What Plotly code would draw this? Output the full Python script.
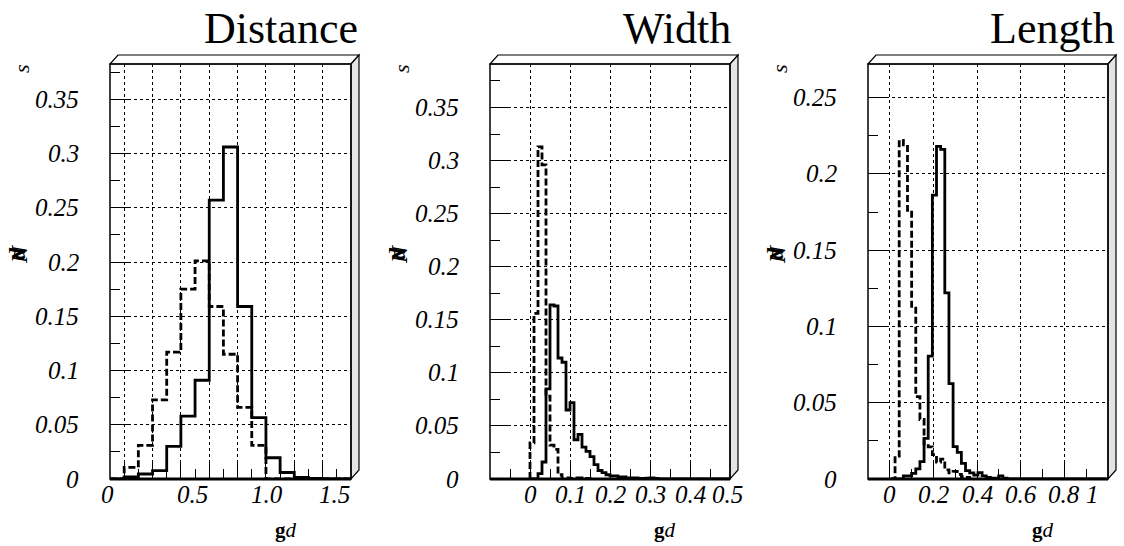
import numpy as np
import plotly.graph_objects as go

# ---- histogram contents -------------------------------------------------
# Distance: 0.1-wide bins starting at 0.0
dist_start, dist_width = 0.0, 0.1
dist_solid = [0, 0.002, 0.0046, 0.0077, 0.030, 0.058, 0.091, 0.257, 0.306,
              0.159, 0.0565, 0.0196, 0.006, 0.0015, 0.0005, 0, 0]
dist_dashed = [0, 0.0107, 0.031, 0.073, 0.117, 0.175, 0.201, 0.159, 0.115,
               0.066, 0.031, 0, 0, 0, 0, 0, 0]

# Width: 0.01-wide bins starting at 0.0
wid_start, wid_width = 0.0, 0.01
wid_solid = [0, 0, 0.005, 0.016, 0.085, 0.164, 0.163, 0.114, 0.110, 0.065,
             0.072, 0.037, 0.042, 0.030, 0.026, 0.021, 0.0135, 0.008, 0.006,
             0.004, 0.003, 0.003, 0.002, 0.002, 0.001, 0.001, 0.001, 0.0005,
             0.0005, 0.0008, 0.001, 0.0005, 0, 0, 0, 0, 0, 0, 0, 0, 0, 0,
             0, 0, 0, 0, 0, 0, 0, 0]
wid_dashed = [0.034, 0.156, 0.313, 0.296, 0.078, 0.032, 0.028, 0.004, 0.001,
              0.001, 0.0005, 0.001, 0.001, 0.0005, 0.0005, 0]

# Length: 0.019-wide bins starting at 0.005
len_start, len_width = 0.005, 0.019
len_solid = [0, 0, 0, 0.002, 0.002, 0.0037, 0.0066, 0.0114, 0.0266, 0.0806,
             0.186, 0.218, 0.216, 0.122, 0.0625, 0.0212, 0.0175, 0.0103,
             0.0055, 0.004, 0.0026, 0.0042, 0.002, 0.001, 0.0005, 0.0005,
             0.002, 0.0005, 0, 0, 0, 0, 0, 0, 0, 0, 0, 0, 0, 0, 0, 0, 0, 0,
             0, 0, 0, 0, 0, 0, 0, 0]
len_dashed = [0, 0.015, 0.222, 0.219, 0.176, 0.112, 0.054, 0.039, 0.023,
              0.021, 0.016, 0.011, 0.013, 0.006, 0.004, 0.005, 0.003, 0.0015,
              0.001, 0]

# ---- axis texts ---------------------------------------------------------
titles = ["Distance", "Width", "Length"]

dist_yticks = [0, 0.05, 0.1, 0.15, 0.2, 0.25, 0.3, 0.35]
dist_ytext = ["0", "0.05", "0.1", "0.15", "0.2", "0.25", "0.3", "0.35"]
wid_yticks = dist_yticks
wid_ytext = dist_ytext
len_yticks = [0, 0.05, 0.1, 0.15, 0.2, 0.25]
len_ytext = ["0", "0.05", "0.1", "0.15", "0.2", "0.25"]

# x labels are placed as fractions of each frame's width
dist_xlabels = ["0", "0.5", "1.0", "1.5"]
dist_xlabel_pos = [-0.012, 0.344, 0.65, 0.93]
wid_xlabels = ["0", "0.1", "0.2", "0.3", "0.4", "0.5"]
wid_xlabel_pos = [1 / 6, 2 / 6, 3 / 6, 4 / 6, 5 / 6, 0.99]
len_xlabels = ["0", "0.2", "0.4", "0.6", "0.8", "1"]
len_xlabel_pos = [0.1 / 1.1, 0.3 / 1.1, 0.5 / 1.1, 0.7 / 1.1, 0.9 / 1.1, 0.935]

W, H = 1124, 546
FONT = "Times New Roman, Liberation Serif, serif"


def step_xy(start, width, vals):
    edges = start + width * np.arange(len(vals) + 1)
    x = [edges[0]] + list(edges[:-1]) + [edges[-1], edges[-1]]
    y = [0] + list(vals) + [vals[-1], 0]
    return x, y


panels = [
    dict(solid=(dist_start, dist_width, dist_solid),
         dashed=(dist_start, dist_width, dist_dashed),
         xr=[0, 1.7], yr=[0, 0.3825],
         xgrid=[0.1, 0.3, 0.5, 0.7, 0.9, 1.1, 1.3, 1.5], xminor=(0, 0.1),
         yticks=dist_yticks, ytext=dist_ytext,
         xl=dist_xlabels, xlp=dist_xlabel_pos,
         px=(110, 351), tshift=9),
    dict(solid=(wid_start, wid_width, wid_solid),
         dashed=(wid_start, wid_width, wid_dashed),
         xr=[-0.1, 0.5], yr=[0, 0.391],
         xgrid=[0, 0.1, 0.2, 0.3, 0.4], xminor=(-0.1, 0.05),
         yticks=wid_yticks, ytext=wid_ytext,
         xl=wid_xlabels, xlp=wid_xlabel_pos,
         px=(490, 730), tshift=3),
    dict(solid=(len_start, len_width, len_solid),
         dashed=(len_start, len_width, len_dashed),
         xr=[-0.1, 1.0], yr=[0, 0.272],
         xgrid=[0, 0.2, 0.4, 0.6, 0.8], xminor=(-0.1, 0.1),
         yticks=len_yticks, ytext=len_ytext,
         xl=len_xlabels, xlp=len_xlabel_pos,
         px=(868, 1108), tshift=9),
]

TOP, BOTTOM = 64, 479
ydom = [1 - BOTTOM / H, 1 - TOP / H]
DX, DY = 8 / W, 9 / H

fig = go.Figure()
layout = dict(width=W, height=H, margin=dict(l=0, r=0, t=0, b=0),
              paper_bgcolor="white", plot_bgcolor="white", showlegend=False,
              font=dict(family=FONT, color="black"))
shapes, annotations = [], []

for i, p in enumerate(panels, start=1):
    xa = "x" if i == 1 else f"x{i}"
    ya = "y" if i == 1 else f"y{i}"
    xdom = [p["px"][0] / W, p["px"][1] / W]

    for key, dash in (("solid", "solid"), ("dashed", "7px,3px")):
        x, y = step_xy(*p[key])
        fig.add_trace(go.Scatter(
            x=x, y=y, mode="lines", line_shape="hv",
            line=dict(color="black", width=2.8, dash=dash),
            xaxis=xa, yaxis=ya, hoverinfo="skip"))

    grid = dict(showgrid=True, gridcolor="black", gridwidth=1,
                griddash="3px,3px", zeroline=False, showline=False,
                showticklabels=False, ticks="inside", tickcolor="black",
                tickwidth=1)
    layout["xaxis" if i == 1 else f"xaxis{i}"] = dict(
        domain=xdom, range=p["xr"], anchor=ya, tickmode="array",
        tickvals=p["xgrid"], ticklen=16,
        minor=dict(ticks="inside", ticklen=10, tickcolor="black",
                   tick0=p["xminor"][0], dtick=p["xminor"][1],
                   showgrid=False),
        **grid)
    layout["yaxis" if i == 1 else f"yaxis{i}"] = dict(
        domain=ydom, range=p["yr"], anchor=xa, tickmode="array",
        tickvals=[v for v in p["yticks"] if v > 0], ticklen=20,
        minor=dict(ticks="inside", ticklen=10, tickcolor="black",
                   tick0=0, dtick=0.025, showgrid=False),
        **grid)

    x0, x1 = xdom
    y0, y1 = ydom
    # box depth: top and right faces
    shapes.append(dict(type="path", xref="paper", yref="paper",
                       path=f"M{x0},{y1} L{x0+DX},{y1+DY} L{x1+DX},{y1+DY} L{x1},{y1} Z",
                       fillcolor="white", line=dict(color="black", width=1.2),
                       layer="above"))
    shapes.append(dict(type="path", xref="paper", yref="paper",
                       path=f"M{x1},{y1} L{x1+DX},{y1+DY} L{x1+DX},{y0+DY} L{x1},{y0} Z",
                       fillcolor="#e4e4e4", line=dict(color="black", width=1.2),
                       layer="above"))
    # frame
    shapes.append(dict(type="rect", xref="paper", yref="paper",
                       x0=x0, x1=x1, y0=y0, y1=y1,
                       line=dict(color="black", width=1.5), layer="above"))
    shapes.append(dict(type="line", xref="paper", yref="paper",
                       x0=x0, x1=x1, y0=y0, y1=y0,
                       line=dict(color="black", width=3), layer="above"))

    xd, yd = f"{xa} domain", f"{ya} domain"
    # title
    annotations.append(dict(text=titles[i - 1], xref=xd, x=1, xanchor="right",
                            xshift=p["tshift"], yref="paper", y=1 - 28 / H,
                            yanchor="middle", showarrow=False,
                            font=dict(size=44, family=FONT)))
    # y tick labels
    for v, t in zip(p["yticks"], p["ytext"]):
        annotations.append(dict(text=f"<i>{t}</i>", xref=xd, x=0,
                                xanchor="right", xshift=-29, yref=ya, y=v,
                                yanchor="middle", showarrow=False,
                                font=dict(size=25, family=FONT)))
    # x tick labels
    for v, t in zip(p["xlp"], p["xl"]):
        annotations.append(dict(text=f"<i>{t}</i>", xref=xd, x=v,
                                xanchor="center", yref=yd, y=0, yshift=-15,
                                yanchor="middle", showarrow=False,
                                font=dict(size=25, family=FONT)))
    # axis symbols
    annotations.append(dict(text="<i>s</i>", xref=xd, x=0, xshift=-88,
                            yref=yd, y=0.988, yanchor="middle",
                            xanchor="center", textangle=-90, showarrow=False,
                            font=dict(size=22, family=FONT)))
    for t, dx in (("<b><i>d</i></b>", -93), ("<b><i>N</i></b>", -91)):
        annotations.append(dict(text=t, xref=xd, x=0, xshift=dx,
                                yref=yd, y=0.542, yanchor="middle",
                                xanchor="center", textangle=-90,
                                showarrow=False,
                                font=dict(size=24, family=FONT)))
    annotations.append(dict(text="<b>g</b><i>d</i>", xref=xd, x=0.73,
                            yref=yd, y=0, yshift=-51, yanchor="middle",
                            xanchor="center", showarrow=False,
                            font=dict(size=21, family=FONT)))

layout["shapes"] = shapes
layout["annotations"] = annotations
fig.update_layout(**layout)
fig.write_html("out.html")
